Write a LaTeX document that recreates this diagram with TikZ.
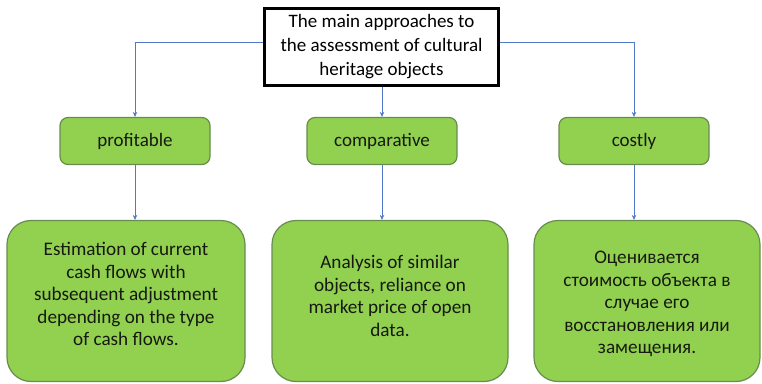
\documentclass[tikz,border=0pt]{standalone}
\usepackage{fontspec}
\setmainfont{Carlito}
\usetikzlibrary{arrows.meta}
\definecolor{leafgreen}{RGB}{146,208,80}
\definecolor{leafedge}{RGB}{104,140,78}
\definecolor{linkblue}{RGB}{82,120,200}
\definecolor{inkdark}{RGB}{22,26,16}
% shift a text block vertically without changing its reported size
\newcommand{\nudge}[2]{\raisebox{#1}[\height][\depth]{#2}}
\begin{document}
\begin{tikzpicture}[x=1pt,y=-1pt,
  headbox/.style={draw=black,line width=3pt,fill=white,inner sep=0pt,
    minimum width=234pt,minimum height=77pt,align=center,
    font=\fontsize{19}{24}\selectfont},
  kindbox/.style={draw=leafedge,line width=1.2pt,fill=leafgreen,rounded corners=8pt,
    inner sep=0pt,minimum width=150pt,minimum height=47pt,text=inkdark,
    font=\fontsize{19}{22}\selectfont},
  notebox/.style={draw=leafedge,line width=1.2pt,fill=leafgreen,rounded corners=24pt,
    inner sep=0pt,minimum height=161pt,text=inkdark,align=center,
    font=\fontsize{19.2}{22.5}\selectfont},
  link/.style={draw=linkblue,line width=0.9pt,-{Stealth[length=5pt,width=4.5pt]}}
]
\useasboundingbox (0,0) rectangle (762,383);

% title box
\node[headbox] (head) at (381.5,47) {The main approaches to\\the assessment of cultural\\heritage objects};

% approach boxes
\node[kindbox] (prof) at (135,141) {profitable};
\node[kindbox] (comp) at (382,141) {comparative};
\node[kindbox] (cost) at (634,141) {costly};

% description boxes
\node[notebox,minimum width=238pt] (profnote) at (126,301)
  {\nudge{7pt}{\parbox{210pt}{\centering Estimation of current\\cash flows with\\subsequent adjustment\\depending on the type\\of cash flows.}}};
\node[notebox,minimum width=236pt] (compnote) at (390,301)
  {\nudge{5pt}{\parbox{210pt}{\centering Analysis of similar\\objects, reliance on\\market price of open\\data.}}};
\node[notebox,minimum width=226pt] (costnote) at (647,301)
  {\nudge{-3pt}{\parbox{210pt}{\centering Оценивается\\стоимость объекта в\\случае его\\восстановления или\\замещения.}}};

% connectors
\draw[link] ([yshift=5pt]head.west) -| (prof.north);
\draw[link] ([yshift=5pt]head.east) -| (cost.north);
\draw[link] (head.south -| comp.north) -- (comp.north);
\draw[link] (prof.south) -- (prof.south |- profnote.north);
\draw[link] (comp.south) -- (comp.south |- compnote.north);
\draw[link] (cost.south) -- (cost.south |- costnote.north);
\end{tikzpicture}
\end{document}
